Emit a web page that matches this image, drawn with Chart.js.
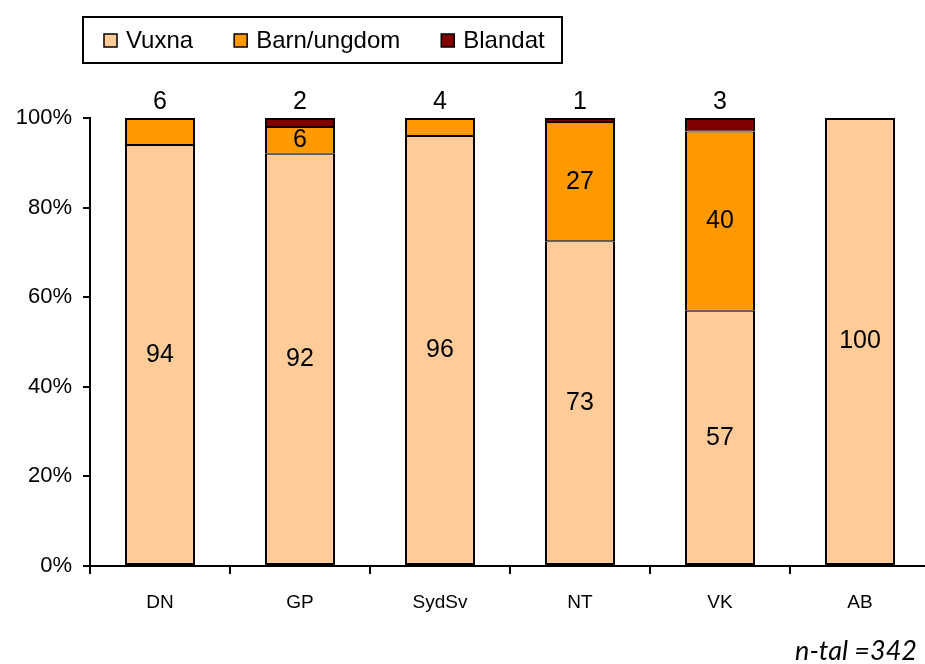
<!DOCTYPE html>
<html>
<head>
<meta charset="utf-8">
<script src="https://cdn.jsdelivr.net/npm/chart.js@4/dist/chart.umd.min.js"></script>
<style>
  html, body { margin: 0; padding: 0; background: #fff; overflow: hidden; }
  #wrap { width: 935px; height: 664px; }
</style>
</head>
<body>
<div id="wrap"><canvas id="chart" width="935" height="664"></canvas></div>
<script>
const categories = ['DN', 'GP', 'SydSv', 'NT', 'VK', 'AB'];
const vuxna = [94, 92, 96, 72.5, 57, 100];
const barn = [6, 6, 4, 26.6, 40, null];
const blandat = [null, 2, null, 0.9, 3, null];
const seriesNames = ['Vuxna', 'Barn/ungdom', 'Blandat'];
const seriesColors = ['#FFCC99', '#FF9900', '#800000'];
const noteText = 'n-tal =342';

const FONT = '"Liberation Sans", Arial, sans-serif';

function isTopSegment(chart, i, j) {
    const sets = chart.data.datasets;
    for (let k = i + 1; k < sets.length; k++) {
        if (sets[k].data[j] > 0) return false;
    }
    return true;
}

// value labels: middle of segment, or above the bar for small top segments
const valueLabels = {
    id: 'valueLabels',
    afterDatasetsDraw(chart) {
        const ctx = chart.ctx;
        ctx.save();
        ctx.font = '25px ' + FONT;
        ctx.fillStyle = '#000';
        ctx.textAlign = 'center';
        ctx.textBaseline = 'middle';
        chart.data.datasets.forEach((ds, i) => {
            const meta = chart.getDatasetMeta(i);
            ds.data.forEach((v, j) => {
                if (!v) return;
                const bar = meta.data[j];
                let y;
                if (isTopSegment(chart, i, j) && v < 10) {
                    y = chart.scales.y.getPixelForValue(100) - 16;
                } else {
                    y = (bar.y + bar.base) / 2;
                }
                ctx.fillText(String(Math.round(v)), bar.x, y);
            });
        });
        ctx.restore();
    }
};

// boxed legend at top and the n-tal note
const boxLegend = {
    id: 'boxLegend',
    afterDraw(chart) {
        const ctx = chart.ctx;
        ctx.save();
        ctx.strokeStyle = '#000';
        ctx.lineWidth = 2;
        ctx.strokeRect(83, 17, 479, 46);

        ctx.font = '24px ' + FONT;
        ctx.textBaseline = 'middle';
        ctx.textAlign = 'left';
        let x = 104;
        const cy = 41;
        chart.data.datasets.forEach(ds => {
            ctx.fillStyle = ds.backgroundColor;
            ctx.fillRect(x, cy - 7, 13, 13);
            ctx.lineWidth = 1.5;
            ctx.strokeRect(x, cy - 7, 13, 13);
            ctx.fillStyle = '#000';
            ctx.fillText(ds.label, x + 22, cy);
            x += 22 + ctx.measureText(ds.label).width + 41;
        });

        ctx.font = 'italic 27px Lato, "Open Sans", sans-serif';
        ctx.textAlign = 'right';
        ctx.textBaseline = 'alphabetic';
        ctx.fillText(noteText, 917, 660);
        ctx.restore();
    }
};

new Chart(document.getElementById('chart'), {
    type: 'bar',
    data: {
        labels: categories,
        datasets: [vuxna, barn, blandat].map((d, i) => ({
            label: seriesNames[i],
            data: d,
            backgroundColor: seriesColors[i],
            borderColor: '#000',
            borderWidth: c => ({
                left: 2,
                right: 2,
                top: isTopSegment(c.chart, c.datasetIndex, c.dataIndex) ? 2 : 1,
                bottom: c.datasetIndex === 0 ? 2 : 1
            }),
            borderSkipped: false,
            barPercentage: 0.5,
            categoryPercentage: 1
        }))
    },
    options: {
        responsive: false,
        animation: false,
        devicePixelRatio: 1,
        layout: { padding: { left: 0, top: 118, right: 5, bottom: 0 } },
        plugins: {
            legend: { display: false },
            tooltip: { enabled: false }
        },
        scales: {
            x: {
                stacked: true,
                afterFit(scale) { scale.height = 98; },
                grid: {
                    offset: true,
                    drawOnChartArea: false,
                    tickLength: 8,
                    color: '#000',
                    lineWidth: 2
                },
                border: { color: '#000', width: 2 },
                ticks: {
                    color: '#000',
                    padding: 17,
                    font: { family: FONT, size: 19 }
                }
            },
            y: {
                stacked: true,
                min: 0,
                max: 100,
                afterFit(scale) { scale.width = 90; },
                grid: {
                    drawOnChartArea: false,
                    tickLength: 7,
                    color: '#000',
                    lineWidth: 2
                },
                border: { color: '#000', width: 2 },
                ticks: {
                    stepSize: 20,
                    color: '#000',
                    padding: 11,
                    font: { family: FONT, size: 22 },
                    callback: v => v + '%'
                }
            }
        }
    },
    plugins: [valueLabels, boxLegend]
});
</script>
</body>
</html>
